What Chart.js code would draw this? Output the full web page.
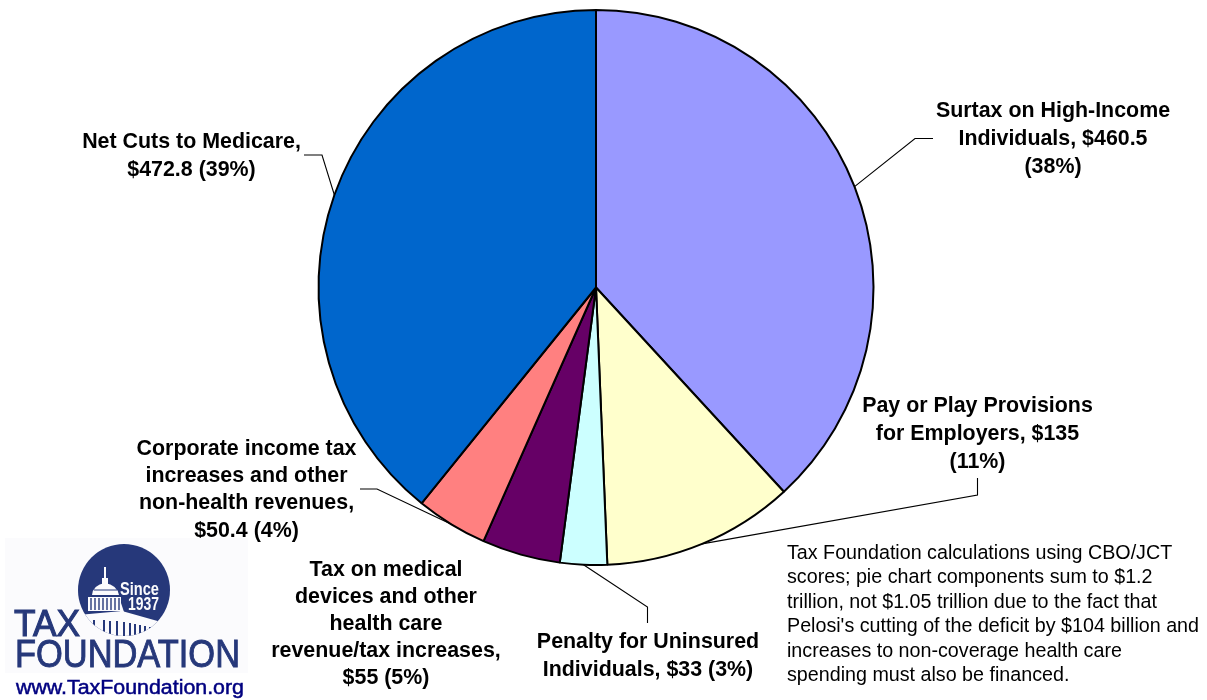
<!DOCTYPE html>
<html>
<head>
<meta charset="utf-8">
<title>Revenue sources</title>
<script src="https://cdn.jsdelivr.net/npm/chart.js@4"></script>
<style>
  html, body { margin: 0; padding: 0; background: #fff; }
  #wrap { position: relative; width: 1207px; height: 700px; overflow: hidden; }
  canvas { position: absolute; left: 0; top: 0; }
  #logo { position: absolute; left: 0; top: 530px; }
  #note {
    position: absolute; left: 787px; top: 539.5px; width: 420px;
    font: 19.7px/24.6px "Liberation Sans", Arial, sans-serif; color: #000; white-space: pre;
  }
</style>
</head>
<body>
<div id="wrap">
  <canvas id="pie" width="1207" height="700"></canvas>
  <svg id="logo" width="260" height="170" viewBox="0 530 260 170">
    <defs>
      <clipPath id="seal"><circle cx="124" cy="590" r="46"/></clipPath>
    </defs>
    <rect x="5" y="538" width="243" height="135" fill="#fbfbfd"/>
    <circle cx="124" cy="590" r="46" fill="#26387a"/>
    <!-- Capitol silhouette inside the seal -->
    <g clip-path="url(#seal)">
      <rect x="104" y="567" width="2" height="12" fill="#fbfbfd"/>
      <path d="M102 578 H108 V584 H102 Z" fill="#fbfbfd"/>
      <path d="M92 595 Q93 585 105 583 Q117 585 119 595 Z" fill="#fbfbfd"/>
      <rect x="88" y="596" width="33" height="15" fill="#fbfbfd"/>
      <path d="M121 603 L124 612 L120 612 Z" fill="#fbfbfd"/>
      <path d="M78 615 L122 611 L172 625 L172 640 L78 640 Z" fill="#fbfbfd"/>
      <g stroke="#26387a" stroke-width="1.4">
        <path d="M91 598 V610 M95 598 V610 M99 598 V610 M103 598 V610 M107 598 V610 M111 598 V610 M115 598 V610 M119 598 V610"/>
        <path d="M94 590 H117 M88 596.5 H121" stroke-width="1"/>
      </g>
      <g stroke="#26387a" stroke-width="2">
        <path d="M94 620 V637 M104 620 V637 M110 621 V637 M117 621 V637 M124 622 V637 M130 623 V637 M135 624 V637 M140 625 V637 M145 626 V637 M150 627 V637 M155 628 V637"/>
      </g>
    </g>
    <text x="139.5" y="594.5" text-anchor="middle" font-family="Liberation Sans Narrow, Liberation Sans" font-weight="700" font-size="19" fill="#fbfbfd" textLength="39" lengthAdjust="spacingAndGlyphs">Since</text>
    <text x="143.5" y="610" text-anchor="middle" font-family="Liberation Sans Narrow, Liberation Sans" font-weight="700" font-size="19" fill="#fbfbfd" textLength="31" lengthAdjust="spacingAndGlyphs">1937</text>
    <text x="14" y="636" font-family="Liberation Sans" font-size="37" fill="#26387a" textLength="66" lengthAdjust="spacingAndGlyphs" stroke="#26387a" stroke-width="1.1">TAX</text>
    <text x="15" y="667" font-family="Liberation Sans" font-size="38" fill="#26387a" textLength="225" lengthAdjust="spacingAndGlyphs" stroke="#26387a" stroke-width="0.9">FOUNDATION</text>
    <text x="16" y="694" font-family="Liberation Sans" font-size="20" fill="#000080" textLength="228" lengthAdjust="spacingAndGlyphs" stroke="#000080" stroke-width="0.5">www.TaxFoundation.org</text>
  </svg>
  <div id="note"></div>
</div>
<script>
// Components of the financing total, in billions of dollars
const categories = [
  'Surtax on High-Income Individuals',
  'Pay or Play Provisions for Employers',
  'Penalty for Uninsured Individuals',
  'Tax on medical devices and other health care revenue/tax increases',
  'Corporate income tax increases and other non-health revenues',
  'Net Cuts to Medicare'
];
const amounts = [460.5, 135, 33, 55, 50.4, 472.8];
const sliceColors = ['#9999ff', '#ffffcc', '#ccffff', '#660066', '#ff8080', '#0066cc'];

// Label text per slice, one string per drawn line
const labelLines = [
  ['Surtax on High-Income', 'Individuals, $460.5', '(38%)'],
  ['Pay or Play Provisions', 'for Employers, $135', '(11%)'],
  ['Penalty for Uninsured', 'Individuals, $33 (3%)'],
  ['Tax on medical', 'devices and other', 'health care', 'revenue/tax increases,', '$55 (5%)'],
  ['Corporate income tax', 'increases and other', 'non-health revenues,', '$50.4 (4%)'],
  ['Net Cuts to Medicare,', '$472.8 (39%)']
];
const noteLines = [
  'Tax Foundation calculations using CBO/JCT',
  'scores; pie chart components sum to $1.2',
  'trillion, not $1.05 trillion due to the fact that',
  "Pelosi's cutting of the deficit by $104 billion and",
  'increases to non-coverage health care',
  'spending must also be financed.'
];

document.getElementById('note').textContent = noteLines.join('\n');

// Where each label block sits and how its leader line bends
const labelLayout = [
  { x: 1053, y: 111.5, step: 28, leader: [[933, 138.5], [915, 138.5]] },
  { x: 977.5, y: 406.5, step: 28, leader: [[977.5, 478], [977.5, 495]] },
  { x: 648, y: 642.5, step: 28, leader: [[647.5, 623], [647.5, 607]] },
  { x: 386, y: 570.5, step: 27, leader: null },
  { x: 246.5, y: 449, step: 27.3, leader: [[360, 489], [377, 489]] },
  { x: 191.5, y: 142.5, step: 28, leader: [[304, 155], [322, 155]] }
];

const sliceLabels = {
  id: 'sliceLabels',
  afterDraw(chart) {
    const ctx = chart.ctx;
    const arcs = chart.getDatasetMeta(0).data;
    ctx.save();
    arcs.forEach((arc, i) => {
      const layout = labelLayout[i];
      if (layout.leader) {
        const p = arc.getProps(['x', 'y', 'startAngle', 'endAngle', 'outerRadius'], true);
        const mid = (p.startAngle + p.endAngle) / 2;
        const ex = p.x + Math.cos(mid) * p.outerRadius;
        const ey = p.y + Math.sin(mid) * p.outerRadius;
        ctx.beginPath();
        ctx.moveTo(layout.leader[0][0], layout.leader[0][1]);
        ctx.lineTo(layout.leader[1][0], layout.leader[1][1]);
        ctx.lineTo(ex, ey);
        ctx.strokeStyle = '#000';
        ctx.lineWidth = 1.1;
        ctx.stroke();
      }
      ctx.fillStyle = '#000';
      ctx.font = 'bold 21.4px "Liberation Sans", Arial, sans-serif';
      ctx.textAlign = 'center';
      ctx.textBaseline = 'middle';
      labelLines[i].forEach((line, k) => {
        ctx.fillText(line, layout.x, layout.y + k * layout.step);
      });
    });
    ctx.restore();
  }
};

new Chart(document.getElementById('pie'), {
  type: 'pie',
  data: {
    labels: categories,
    datasets: [{
      data: amounts,
      backgroundColor: sliceColors,
      borderColor: '#000',
      borderWidth: 2
    }]
  },
  options: {
    responsive: false,
    animation: false,
    layout: { padding: { top: 9, left: 0, right: 15, bottom: 134 } },
    plugins: { legend: { display: false }, tooltip: { enabled: false } }
  },
  plugins: [sliceLabels]
});
</script>
</body>
</html>
